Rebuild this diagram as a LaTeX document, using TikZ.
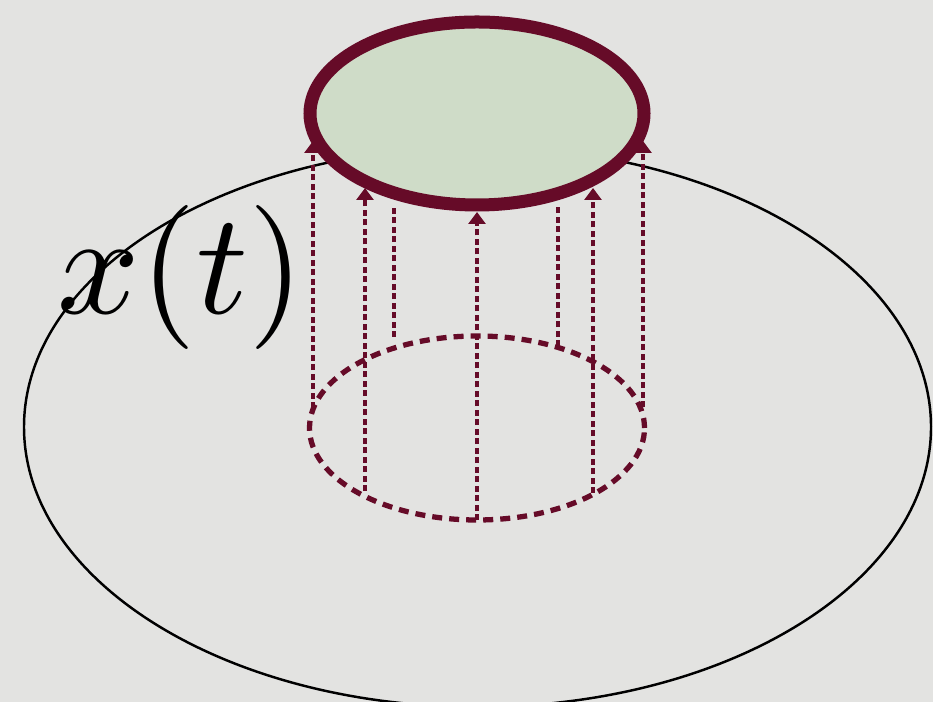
\documentclass[tikz,border=0pt]{standalone}
\usetikzlibrary{arrows.meta}
\definecolor{maroon}{HTML}{660B28}
\definecolor{leaf}{HTML}{CFDCC8}
\definecolor{paper}{HTML}{E3E3E1}
\begin{document}
\begin{tikzpicture}[
    proj/.style={maroon, line width=0.9pt, dash pattern=on 1.7pt off 1pt},
    tip/.style={-{Triangle[width=4.8pt,length=3.4pt]}}
  ]
    \useasboundingbox (0, 0) rectangle (9.33, 7.02);
    \fill[paper] (0, 0) rectangle (9.33, 7.02);

    % big loop
    \draw[black, line width=0.7pt] (4.775, 2.75) ellipse (4.535 and 2.80);
    \node[scale=4.1] (xt) at (1.81, 4.245) {$x(t)$};

    % shadow circle below
    \draw[maroon, line width=1.5pt, dash pattern=on 2.85pt off 2pt] (4.77, 2.74) ellipse (1.675 and 0.92);

    % lifted disc
    \draw[maroon, fill=leaf, line width=3.7pt] (4.77, 5.885) ellipse (1.67 and 0.915);

    % projection lines with arrows
    \foreach \x/\ya/\yb [count=\i] in {3.13/2.94/5.61, 3.65/2.11/5.14, 4.77/1.82/4.90, 5.93/2.09/5.14, 6.43/2.95/5.61} {
        \coordinate (lo\i) at (\x, \ya);
        \coordinate (hi\i) at (\x, \yb);
        \draw[proj, tip] (lo\i) -- (hi\i);
    }
    % projection lines without arrows
    \foreach \x/\ya [count=\i] in {3.94/3.65, 5.58/3.56} {
        \coordinate (bk\i) at (\x, \ya);
        \coordinate (fr\i) at (\x, 4.97);
        \draw[proj] (bk\i) -- (fr\i);
    }
\end{tikzpicture}
\end{document}
